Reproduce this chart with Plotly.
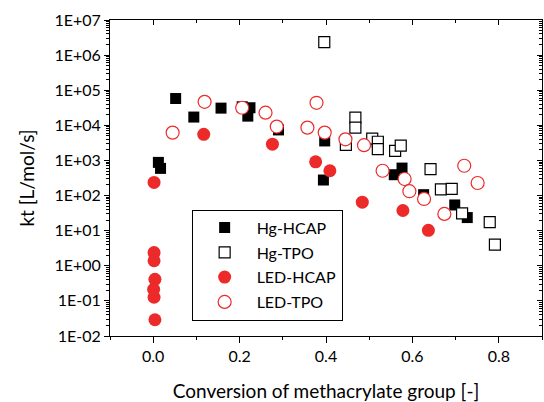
import plotly.graph_objects as go

# Conversion (x) and termination rate coefficient kt [L/mol/s] (y) per system
hg_hcap_x = [0.012, 0.017, 0.052, 0.094, 0.157, 0.206, 0.224, 0.219, 0.290,
             0.397, 0.394, 0.558, 0.576, 0.626, 0.698, 0.727]
hg_hcap_y = [880, 594, 5.8e4, 1.72e4, 3.09e4, 3.38e4, 3.17e4, 1.83e4, 7.4e3,
             3.59e3, 277, 392, 606, 106, 54, 23.6]

hg_tpo_x = [0.396, 0.468, 0.468, 0.446, 0.507, 0.520, 0.520, 0.560, 0.573,
            0.642, 0.666, 0.691, 0.715, 0.779, 0.791]
hg_tpo_y = [2.33e6, 1.65e4, 8.6e3, 2.77e3, 4.2e3, 3.41e3, 2.09e3, 1.87e3, 2.63e3,
            568, 149, 154, 31, 17.6, 4.0]

led_hcap_x = [0.002, 0.002, 0.002, 0.004, 0.001, 0.002, 0.004,
              0.117, 0.276, 0.376, 0.409, 0.484, 0.578, 0.637]
led_hcap_y = [236, 2.38, 1.39, 0.41, 0.214, 0.127, 0.029,
              5.56e3, 2.9e3, 914, 508, 64.8, 37.5, 10.2]

led_tpo_x = [0.045, 0.119, 0.206, 0.260, 0.286, 0.357, 0.378, 0.397, 0.445,
             0.488, 0.531, 0.582, 0.593, 0.627, 0.674, 0.720, 0.751]
led_tpo_y = [6.2e3, 4.68e4, 3.17e4, 2.29e4, 9.2e3, 8.6e3, 4.39e4, 6.2e3, 4.0e3,
             2.72e3, 508, 296, 133, 80, 30, 705, 228]

# Axis ticks
y_tick_vals = [1e-2, 1e-1, 1e0, 1e1, 1e2, 1e3, 1e4, 1e5, 1e6, 1e7]
y_tick_text = ["1E-02", "1E-01", "1E+00", "1E+01", "1E+02",
               "1E+03", "1E+04", "1E+05", "1E+06", "1E+07"]
y_minor_vals = [m * d for d in y_tick_vals[:-1] for m in range(2, 10)]

RED = "#EC2A2A"
FONT = "Lato, 'Open Sans', sans-serif"

fig = go.Figure()
fig.add_trace(go.Scatter(
    x=hg_hcap_x, y=hg_hcap_y, mode="markers", name="Hg-HCAP", legendgroup="a",
    marker=dict(symbol="square", size=11, color="black", line=dict(width=0))))
fig.add_trace(go.Scatter(
    x=hg_tpo_x, y=hg_tpo_y, mode="markers", name="Hg-TPO", legendgroup="b",
    marker=dict(symbol="square", size=11, color="white",
                line=dict(width=1.2, color="black"))))
fig.add_trace(go.Scatter(
    x=led_hcap_x, y=led_hcap_y, mode="markers", name="LED-HCAP", legendgroup="c",
    marker=dict(symbol="circle", size=13, color=RED, line=dict(width=0))))
fig.add_trace(go.Scatter(
    x=led_tpo_x, y=led_tpo_y, mode="markers", name="LED-TPO", legendgroup="d",
    marker=dict(symbol="circle", size=13, color="white",
                line=dict(width=1.2, color=RED))))
# Empty trace that carries the mirrored top/right axes
fig.add_trace(go.Scatter(x=[], y=[], xaxis="x2", yaxis="y2",
                         showlegend=False, hoverinfo="skip"))

axis_common = dict(showline=True, linecolor="black", linewidth=1,
                   showgrid=False, zeroline=False, tickcolor="black")

fig.update_layout(
    width=544, height=402,
    margin=dict(l=110, r=2, t=20, b=64),
    paper_bgcolor="white", plot_bgcolor="white",
    font=dict(family=FONT, size=16, color="black"),
    showlegend=True,
    legend=dict(x=0.189, y=0.40, xanchor="left", yanchor="top",
                bgcolor="white", bordercolor="black", borderwidth=1,
                font=dict(family=FONT, size=16), tracegroupgap=1,
                itemwidth=54),
    xaxis=dict(range=[-0.1, 0.9], tick0=0, dtick=0.2, tickformat=".1f",
               ticks="outside", ticklen=6,
               minor=dict(dtick=0.1, ticks="outside", ticklen=3, tickcolor="black"),
               title=dict(text="Conversion of methacrylate group [-]",
                          standoff=21),
               **axis_common),
    yaxis=dict(type="log", range=[-2, 7], tickmode="array",
               tickvals=y_tick_vals, ticktext=y_tick_text,
               ticks="outside", ticklen=5,
               minor=dict(tickmode="array", tickvals=y_minor_vals,
                          ticks="outside", ticklen=3, tickcolor="black"),
               title=dict(text="kt [L/mol/s]", standoff=14),
               **axis_common),
    xaxis2=dict(overlaying="x", side="top", range=[-0.1, 0.9], tick0=0, dtick=0.2,
                ticks="inside", ticklen=5, showticklabels=False,
                minor=dict(dtick=0.1, ticks="inside", ticklen=3, tickcolor="black"),
                **axis_common),
    yaxis2=dict(overlaying="y", side="right", type="log", range=[-2, 7],
                tickmode="array", tickvals=y_tick_vals, showticklabels=False,
                ticks="inside", ticklen=5,
                minor=dict(tickmode="array", tickvals=y_minor_vals,
                           ticks="inside", ticklen=3, tickcolor="black"),
                **axis_common),
)

fig.write_html("out.html")
